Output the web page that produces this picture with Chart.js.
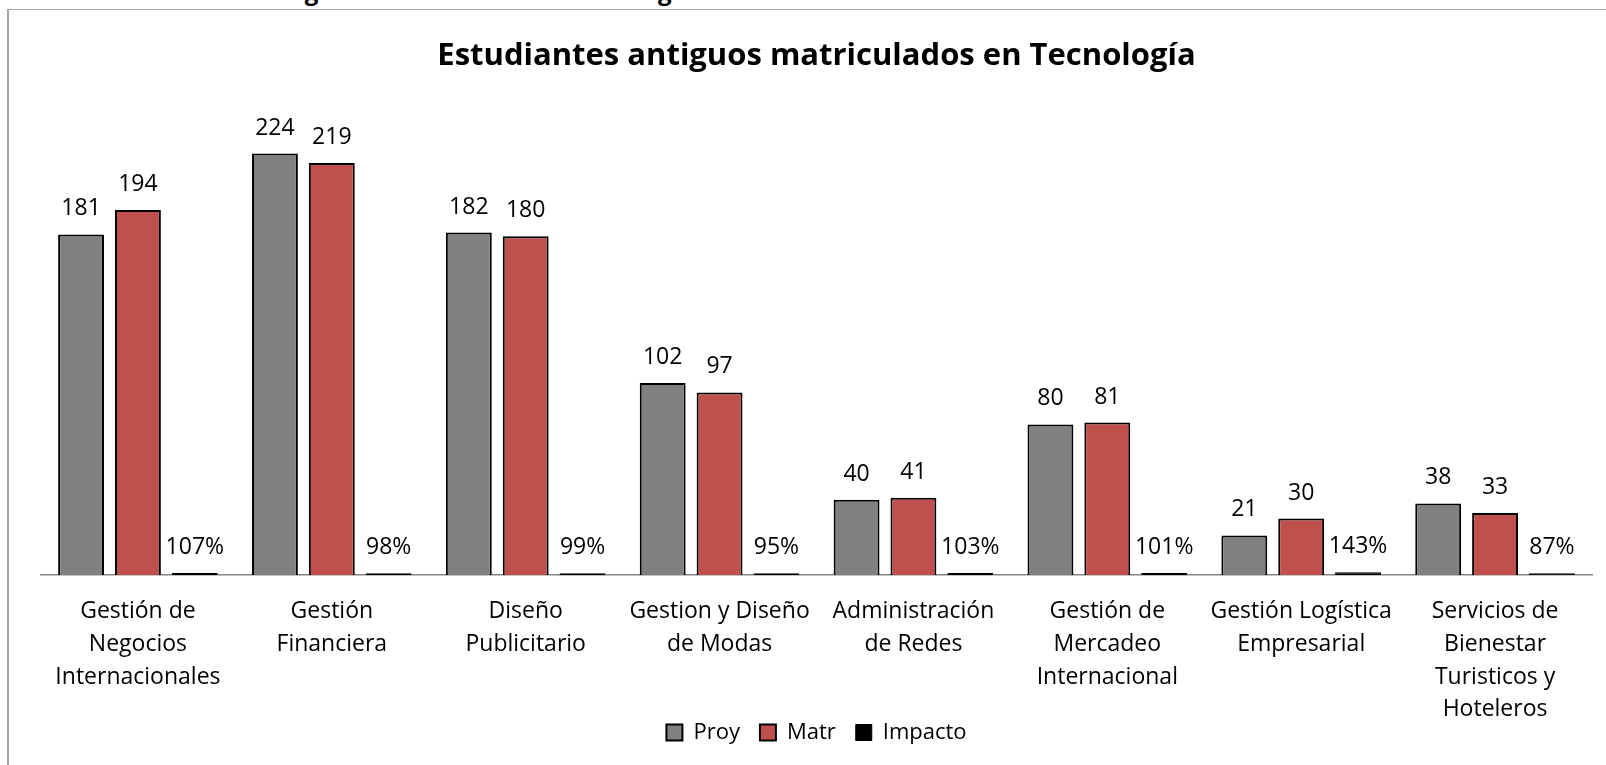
<!DOCTYPE html>
<html>
<head>
<meta charset="utf-8">
<script src="https://cdn.jsdelivr.net/npm/chart.js@4.4.1/dist/chart.umd.min.js"></script>
<style>
  html, body { margin: 0; padding: 0; background: #ffffff; }
  #wrap { position: relative; width: 1606px; height: 765px; overflow: hidden; background: #ffffff; }
  #frame { position: absolute; left: 7px; top: 9px; width: 1620px; height: 780px;
           border-left: 2px solid #a6a6a6; border-top: 1.5px solid #a6a6a6; box-sizing: border-box; }
  #caption { position: absolute; left: 10px; top: -21px; font: bold 24px/24px "Open Sans", sans-serif; color: #000; white-space: nowrap; }
  #c { position: absolute; left: 0; top: 0; }
</style>
</head>
<body>
<div id="wrap">
  <div id="caption">Gráfico: Estudiantes antiguos matriculados en tecnología</div>
  <div id="frame"></div>
  <canvas id="c" width="1606" height="765"></canvas>
</div>
<script>
const titleText = "Estudiantes antiguos matriculados en Tecnología";
const categories = [
  ["Gestión de", "Negocios", "Internacionales"],
  ["Gestión", "Financiera"],
  ["Diseño", "Publicitario"],
  ["Gestion y Diseño", "de Modas"],
  ["Administración", "de Redes"],
  ["Gestión de", "Mercadeo", "Internacional"],
  ["Gestión Logística", "Empresarial"],
  ["Servicios de", "Bienestar", "Turisticos y", "Hoteleros"]
];
const seriesNames = ["Proy", "Matr", "Impacto"];
const proy = [181, 224, 182, 102, 40, 80, 21, 38];
const matr = [194, 219, 180, 97, 41, 81, 30, 33];
const impactoPct = [107, 98, 99, 95, 103, 101, 143, 87];
const impacto = impactoPct.map(v => v / 100);

const FONT = '"Open Sans", sans-serif';

const valueLabels = {
  id: 'valueLabels',
  afterDatasetsDraw(chart) {
    const ctx = chart.ctx;
    ctx.save();
    ctx.font = '23px ' + FONT;
    ctx.fillStyle = '#000';
    ctx.textAlign = 'center';
    ctx.textBaseline = 'alphabetic';
    chart.data.datasets.forEach((ds, di) => {
      const meta = chart.getDatasetMeta(di);
      meta.data.forEach((el, i) => {
        const txt = di === 2 ? impactoPct[i] + '%' : String(ds.data[i]);
        ctx.fillText(txt, el.x, el.y - 19);
      });
    });
    ctx.restore();
  }
};

new Chart(document.getElementById('c'), {
  type: 'bar',
  data: {
    labels: categories,
    datasets: [
      { label: seriesNames[0], data: proy, backgroundColor: '#808080', borderColor: '#000000', borderWidth: 2 },
      { label: seriesNames[1], data: matr, backgroundColor: '#c0504d', borderColor: '#000000', borderWidth: 2 },
      { label: seriesNames[2], data: impacto, backgroundColor: '#000000', borderColor: '#000000', borderWidth: 1 }
    ]
  },
  options: {
    responsive: false,
    animation: false,
    layout: { padding: { left: 41, right: 14, top: 0, bottom: 11.5 } },
    datasets: { bar: { categoryPercentage: 0.88, barPercentage: 0.807 } },
    scales: {
      y: { display: false, min: 0, max: 250 },
      x: {
        grid: { display: false },
        border: { display: true, color: '#868686', width: 1.5 },
        ticks: { color: '#000', font: { family: FONT, size: 23, lineHeight: 1.426 }, padding: 12, maxRotation: 0, autoSkip: false },
        afterFit(scale) {
          scale.height = 126.5;
          scale._computeLabelArea = function () { return undefined; };
        }
      }
    },
    plugins: {
      title: { display: true, text: titleText, color: '#000', font: { family: FONT, size: 31, weight: 'bold', lineHeight: 1.2 }, padding: { top: 37.4, bottom: 30 } },
      legend: {
        position: 'bottom',
        labels: { color: '#000', font: { family: FONT, size: 22 }, boxWidth: 16, boxHeight: 16, padding: 20 }
      },
      tooltip: { enabled: false }
    }
  },
  plugins: [valueLabels]
});
</script>
</body>
</html>
